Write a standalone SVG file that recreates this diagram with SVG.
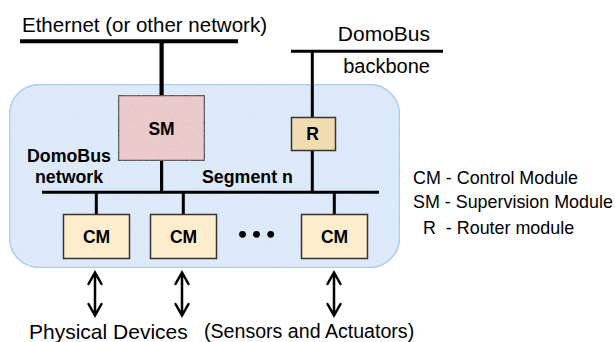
<svg xmlns="http://www.w3.org/2000/svg" width="615" height="342" viewBox="0 0 615 342">
<style>
.t{font-family:"Liberation Sans",Arial,sans-serif;fill:#000}
.b{font-family:"Liberation Sans",Arial,sans-serif;font-weight:bold;fill:#000}
.box{stroke:#333;stroke-width:1.5}
.ln{stroke:#000;fill:none}
.arr{stroke:#000;stroke-width:2.5;fill:none;stroke-linecap:round;stroke-linejoin:miter}
</style>
<defs>
<filter id="tex" x="0" y="0" width="100%" height="100%">
<feTurbulence type="fractalNoise" baseFrequency="0.35" numOctaves="2" seed="3" result="n"/>
<feColorMatrix in="n" type="matrix" values="0 0 0 0 1  0 0 0 0 1  0 0 0 0 1  0 0 0 0.18 0" result="w"/>
<feComposite in="w" in2="SourceGraphic" operator="atop"/>
</filter>
</defs>
<g id="region">
<rect x="9.5" y="84.5" width="390" height="183" rx="30" ry="30" fill="#d9e7f8" stroke="#9ec8f4" stroke-width="1.5" filter="url(#tex)"/>
</g>
<g id="connectors">
<line class="ln" x1="20" y1="41.3" x2="238" y2="41.3" stroke-width="4"/>
<line class="ln" x1="161.6" y1="41" x2="161.6" y2="95" stroke-width="4.2"/>
<line class="ln" x1="291" y1="51.3" x2="443" y2="51.3" stroke-width="3"/>
<line class="ln" x1="312.3" y1="51" x2="312.3" y2="117" stroke-width="3"/>
<line class="ln" x1="312.3" y1="150" x2="312.3" y2="192" stroke-width="3"/>
<line class="ln" x1="42" y1="192.3" x2="379" y2="192.3" stroke-width="3"/>
<line class="ln" x1="161.6" y1="160" x2="161.6" y2="192" stroke-width="3.2"/>
<line class="ln" x1="96.3" y1="192" x2="96.3" y2="214" stroke-width="3"/>
<line class="ln" x1="183.3" y1="192" x2="183.3" y2="214" stroke-width="3"/>
<line class="ln" x1="334.3" y1="192" x2="334.3" y2="214" stroke-width="3"/>
<g id="arrows">
<path class="arr" d="M95 273V315M88.5 284L95 272.5L101.5 284M88.5 304L95 315.5L101.5 304"/>
<path class="arr" d="M182 273V315M175.5 284L182 272.5L188.5 284M175.5 304L182 315.5L188.5 304"/>
<path class="arr" d="M334 273V315M327.5 284L334 272.5L340.5 284M327.5 304L334 315.5L340.5 304"/>
</g>
</g>
<g id="SM">
<rect class="box" x="118.5" y="95.5" width="86" height="65" fill="#e8c3c5" filter="url(#tex)"/>
<text class="b" x="161.5" y="135" font-size="17.5" text-anchor="middle">SM</text>
</g>
<g id="R">
<rect class="box" x="291.5" y="117.5" width="44" height="33" fill="#f1dcb0"/>
<text class="b" x="312.5" y="140" font-size="17.5" text-anchor="middle">R</text>
</g>
<g id="CM1">
<rect class="box" x="63.5" y="214.5" width="66" height="44" fill="#fdedcd"/>
<text class="b" x="96.5" y="243" font-size="17.5" text-anchor="middle">CM</text>
</g>
<g id="CM2">
<rect class="box" x="150.5" y="214.5" width="66" height="44" fill="#fdedcd"/>
<text class="b" x="183.5" y="243" font-size="17.5" text-anchor="middle">CM</text>
</g>
<g id="CM3">
<rect class="box" x="301.5" y="214.5" width="66" height="44" fill="#fdedcd"/>
<text class="b" x="334.5" y="243" font-size="17.5" text-anchor="middle">CM</text>
</g>
<g id="dots" fill="#000">
<circle cx="242.5" cy="234.3" r="3.4"/>
<circle cx="256.5" cy="234.3" r="3.4"/>
<circle cx="270.7" cy="234.3" r="3.4"/>
</g>
<g id="labels">
<text class="t" x="22" y="31.5" font-size="20.5">Ethernet (or other network)</text>
<text class="t" x="430" y="41" font-size="21" text-anchor="end">DomoBus</text>
<text class="t" x="430" y="73" font-size="20" text-anchor="end">backbone</text>
<text class="b" x="27" y="162" font-size="17.8">DomoBus</text>
<text class="b" x="35" y="183" font-size="17.8">network</text>
<text class="b" x="202" y="183" font-size="17.8">Segment n</text>
<text class="t" x="413" y="184" font-size="17.9">CM - Control Module</text>
<text class="t" x="413" y="208" font-size="17.9">SM - Supervision Module</text>
<text class="t" x="423" y="234" font-size="17.9" xml:space="preserve">R  - Router module</text>
<text class="t" x="29" y="339" font-size="21">Physical Devices</text>
<text class="t" x="204" y="338" font-size="19.6">(Sensors and Actuators)</text>
</g>
</svg>
